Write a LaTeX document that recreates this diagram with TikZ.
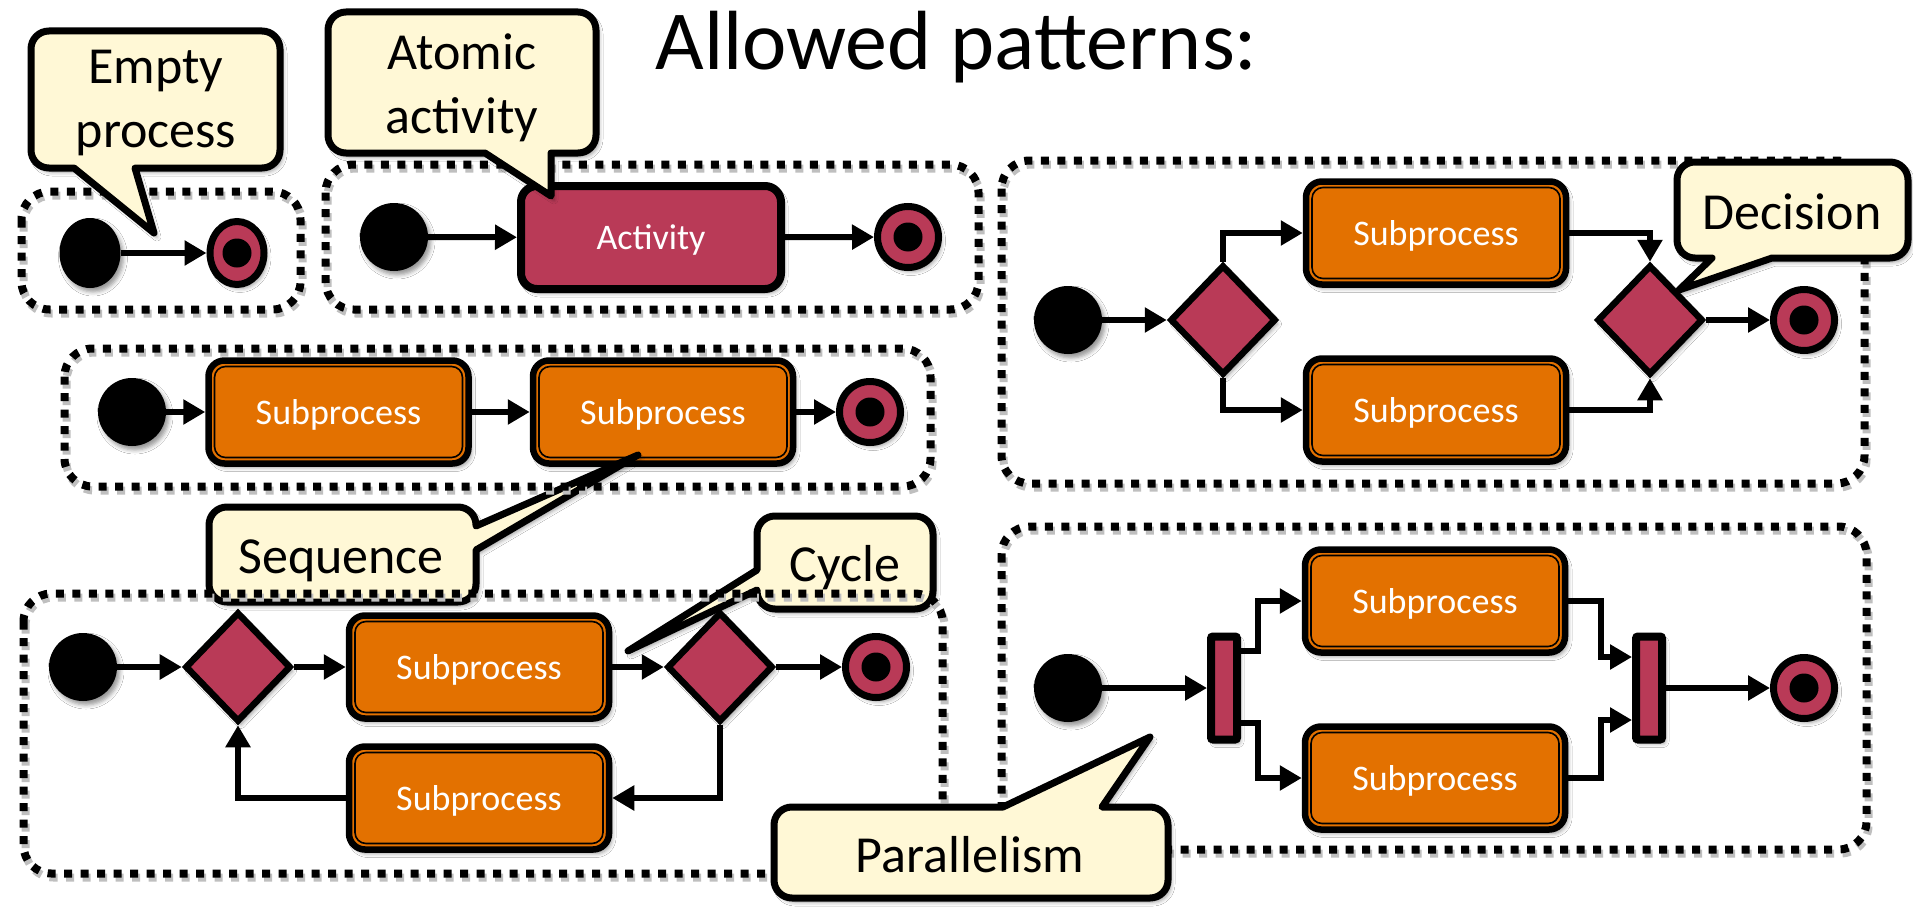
\documentclass[tikz,border=0pt]{standalone}
\usepackage{fontspec}
\setmainfont{Carlito}
\usetikzlibrary{arrows.meta,shapes.geometric,shadows.blur}

\definecolor{actred}{RGB}{185,58,87}
\definecolor{subor}{RGB}{227,113,0}
\definecolor{notefill}{RGB}{255,248,214}

\tikzset{
  softshadow/.style={blur shadow={shadow xshift=3pt,shadow yshift=-4pt,
      shadow blur radius=4pt,shadow opacity=40}},
  dashbox/.style={line width=8pt,dash pattern=on 8pt off 8.5pt,rounded corners=28pt},
  dashshadow/.style={dashbox,black!25,xshift=2pt,yshift=-4pt},
  flow/.style={line width=6pt,-{Triangle[length=22pt,width=24pt]}},
  startnode/.style={circle,fill=black,minimum size=68pt,inner sep=0pt,outer sep=0pt,softshadow},
  startoval/.style={ellipse,fill=black,minimum width=61pt,minimum height=70pt,inner sep=0pt,
      outer sep=0pt,softshadow},
  enddot/.style={path picture={\fill[black] (path picture bounding box.center) circle[radius=14.5pt];}},
  endnode/.style={circle,draw=black,line width=7pt,fill=actred,minimum size=61pt,
      inner sep=0pt,softshadow,enddot},
  endoval/.style={ellipse,draw=black,line width=7pt,fill=actred,minimum width=54pt,
      minimum height=63pt,inner sep=0pt,softshadow,enddot},
  labeltext/.style={text=white,font=\fontsize{36}{43}\selectfont,text depth=0pt},
  actbox/.style={rectangle,rounded corners=16pt,draw=black,line width=8pt,fill=actred,
      minimum width=260pt,minimum height=103pt,inner sep=0pt,labeltext,softshadow},
  subbox/.style={rectangle,rounded corners=16pt,draw=black,line width=6.5pt,fill=subor,
      minimum width=260pt,minimum height=103pt,inner sep=0pt,labeltext,softshadow,
      path picture={\draw[line width=1.6pt,rounded corners=11pt]
        ([shift={(6pt,-6pt)}]path picture bounding box.north west) rectangle
        ([shift={(-6pt,6pt)}]path picture bounding box.south east);}},
  gate/.style={diamond,draw=black,line width=6.5pt,fill=actred,minimum width=106pt,
      minimum height=110pt,inner sep=0pt,softshadow},
  syncbar/.style={rectangle,draw=black,line width=8pt,fill=actred,minimum width=26pt,
      minimum height=103pt,inner sep=0pt,rounded corners=2pt,softshadow},
  notebox/.style={draw=black,line width=7pt,fill=notefill,line join=round,softshadow},
  notetext/.style={font=\fontsize{52}{64}\selectfont,align=center,inner sep=0pt},
}

% rounded speech balloon: corners (#1,#2)-(#3,#4), tail pieces on top/right/bottom/left
\newcommand\balloon[8]{%
  \draw[notebox] (#1+18,#2) #5 -- (#3-18,#2)
    .. controls (#3-8,#2) and (#3,#2+8) .. (#3,#2+18) #6 -- (#3,#4-18)
    .. controls (#3,#4-8) and (#3-8,#4) .. (#3-18,#4) #7 -- (#1+18,#4)
    .. controls (#1+8,#4) and (#1,#4-8) .. (#1,#4-18) #8 -- (#1,#2+18)
    .. controls (#1,#2+8) and (#1+8,#2) .. (#1+18,#2) -- cycle;}

% dotted group frame with its soft shadow
\newcommand\groupframe[4]{%
  \draw[dashshadow] (#1,#2) rectangle (#3,#4);
  \draw[dashbox] (#1,#2) rectangle (#3,#4);}

\begin{document}
\begin{tikzpicture}[x=1pt,y=-1pt]
\fill[white] (0,0) rectangle (1913,907);
\useasboundingbox (0,0) rectangle (1913,907);

% frames lying under their notes
\groupframe{21.5}{191.5}{300.5}{309.5}
\groupframe{325.5}{164.5}{978.5}{309.5}
\groupframe{1001.5}{160.5}{1864.5}{483.5}
\groupframe{1001.5}{526.5}{1866.5}{849.5}

\node[anchor=base west,font=\fontsize{84}{100}\selectfont] (title) at (652,70) {Allowed patterns:};

% empty process
\node[startoval] (e0s) at (90,253) {};
\node[endoval] (e0e) at (237,253) {};
\draw[flow] (e0s) -- (e0e);

% atomic activity
\node[startnode] (a0s) at (394,237) {};
\node[actbox] (act) at (651,237.5) {Activity};
\node[endnode] (a0e) at (908,237) {};
\draw[flow] (a0s) -- (act);
\draw[flow] (act) -- (a0e);

% sequence
\node[startnode] (s0s) at (132,412) {};
\node[subbox] (s1) at (338.5,412) {Subprocess};
\node[subbox] (s2) at (663,412) {Subprocess};
\node[endnode] (s0e) at (870,412) {};
\draw[flow] (s0s) -- (s1);
\draw[flow] (s1) -- (s2);
\draw[flow] (s2) -- (s0e);

% decision
\node[startnode] (d0s) at (1068,320) {};
\node[gate] (dd1) at (1223,320) {};
\node[subbox] (dp1) at (1436,233) {Subprocess};
\node[subbox] (dp2) at (1436,410) {Subprocess};
\node[gate] (dd2) at (1650,320) {};
\node[endnode] (d0e) at (1804,320) {};
\draw[flow] (d0s) -- (dd1);
\draw[flow] (dd1.north) |- (dp1.west);
\draw[flow] (dd1.south) |- (dp2.west);
\draw[flow] (dp1.east) -| (dd2.north);
\draw[flow] (dp2.east) -| (dd2.south);
\draw[flow] (dd2) -- (d0e);

% cycle
\node[startnode] (c0s) at (83,667) {};
\node[gate] (cd1) at (238,667) {};
\node[subbox] (cp1) at (479,667) {Subprocess};
\node[gate] (cd2) at (720,667) {};
\node[endnode] (c0e) at (876,667) {};
\node[subbox] (cp2) at (479,798) {Subprocess};
\draw[flow] (c0s) -- (cd1);
\draw[flow] (cd1) -- (cp1);
\draw[flow] (cp1) -- (cd2);
\draw[flow] (cd2) -- (c0e);
\draw[flow] (cd2.south) |- (cp2.east);
\draw[flow] (cp2.west) -| (cd1.south);

% parallelism
\node[startnode] (p0s) at (1068,688) {};
\node[syncbar] (fork) at (1224,688) {};
\node[subbox] (pp1) at (1435,601) {Subprocess};
\node[subbox] (pp2) at (1435,778) {Subprocess};
\node[syncbar] (join) at (1649,688) {};
\node[endnode] (p0e) at (1804,688) {};
\draw[flow] (p0s) -- (fork);
\draw[flow] ([yshift=37pt]fork.east) -- ++(17,0) |- (pp1.west);
\draw[flow] ([yshift=-35pt]fork.east) -- ++(17,0) |- (pp2.west);
\draw[flow] (pp1.east) -- ++(33,0) |- ([yshift=31pt]join.west);
\draw[flow] (pp2.east) -- ++(33,0) |- ([yshift=-32pt]join.west);
\draw[flow] (join) -- (p0e);

% notes
\balloon{31}{31}{280}{168}{}{}{-- (135,168) -- (154,233) -- (74,168)}{}
\node[notetext] (nEmpty) at (156,103) {Empty\\process};
\balloon{328}{12}{596}{153}{}{}{-- (551,153) -- (551,196) -- (485,153)}{}
\node[notetext] (nAtomic) at (462,88) {Atomic\\activity};
\balloon{1677}{162}{1908}{258}{}{}{-- (1772,258) -- (1679,290) -- (1712,258)}{}
\node[notetext,anchor=base] (nDecision) at (1792,229) {Decision};
\balloon{209}{507}{476}{602}{}{-- (476,526) -- (638,455) -- (476,550)}{}{}
\node[notetext,anchor=base] (nSequence) at (341,573) {Sequence};
\balloon{757}{516}{933}{609}{}{}{}{-- (757,590) -- (628,651) -- (757,570)}
\node[notetext,anchor=base] (nCycle) at (845,581) {Cycle};

% frames lying over their notes
\groupframe{64.5}{348.5}{930.5}{486.5}
\groupframe{23.5}{593.5}{942.5}{873.5}

\balloon{774}{807}{1168}{898}{-- (1003,807) -- (1150,737) -- (1102,807)}{}{}{}
\node[notetext,anchor=base] (nParallel) at (970,872) {Parallelism};
\end{tikzpicture}
\end{document}
